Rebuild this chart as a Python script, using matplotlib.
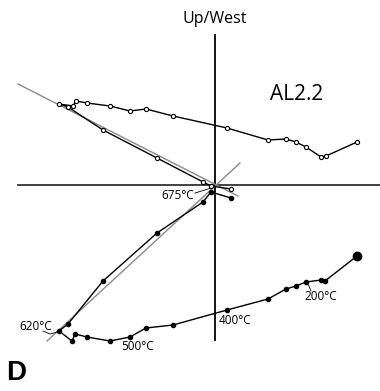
import matplotlib.pyplot as plt

# horizontal projection (open circles): East, North-ish components, NRM first
hor_x = [142, 111, 106, 91, 81, 71, 53, 12, -42, -69, -85, -105, -128, -139, -142, -156, -147, -112, -58, -12, -4, 16]
hor_y = [43, 29, 28, 38, 43, 46, 45, 57, 69, 76, 74, 79, 82, 84, 79, 81, 78, 55, 27, 3, -1, -4]
# vertical projection (filled dots)
ver_x = [142, 110, 106, 91, 81, 71, 53, 12, -42, -69, -85, -105, -128, -140, -143, -156, -147, -112, -58, -12, -4, 16]
ver_y = [-71, -96, -95, -97, -101, -104, -114, -125, -140, -143, -152, -156, -152, -149, -156, -146, -139, -96, -48, -17, -7, -13]

# principal component fit lines
fit1_x = [-197, 23]
fit1_y = [101, -11]
fit2_x = [-168, 25]
fit2_y = [-156, 22]

plt.rcParams['font.family'] = ['Open Sans', 'DejaVu Sans']
fig = plt.figure(figsize=(3.8, 3.91), dpi=100)
ax = fig.add_axes([0, 0, 1, 1])
ax.set_xlim(-215, 165)
ax.set_ylim(-206, 185)
ax.axis('off')

# axes cross
ax.plot([-197, 165], [0, 0], color='#333333', lw=1.3, zorder=1)
ax.plot([0, 0], [150, -155], color='black', lw=1.3, zorder=1)

ax.plot(fit1_x, fit1_y, color='#8a8a8a', lw=1.0, zorder=2)
ax.plot(fit2_x, fit2_y, color='#8a8a8a', lw=1.0, zorder=2)

ax.plot(hor_x, hor_y, '-o', color='black', lw=1.0, ms=3, mfc='white', mew=0.8, zorder=3)
ax.plot(ver_x, ver_y, '-o', color='black', lw=1.0, ms=3, zorder=3)
ax.plot(ver_x[0], ver_y[0], 'o', color='black', ms=6, zorder=4)

ax.text(0, 166, 'Up/West', ha='center', va='center', fontsize=11.5)
ax.text(82, 90, 'AL2.2', ha='center', va='center', fontsize=15)
ax.text(-209, -188, 'D', ha='left', va='center', fontsize=20, fontweight='bold',
        family=['Liberation Sans', 'DejaVu Sans'])

ax.text(-37, -11, '675°C', ha='center', va='center', fontsize=8.5)
ax.plot([-20, -10, -4], [-8, -5, -3], color='black', lw=0.6)
ax.text(-179, -142, '620°C', ha='center', va='center', fontsize=8.5)
ax.plot([-172, -165, -158], [-146, -149, -147], color='black', lw=0.6)
ax.text(-78, -161, '500°C', ha='center', va='center', fontsize=8.5)
ax.text(20, -135, '400°C', ha='center', va='center', fontsize=8.5)
ax.text(106, -112, '200°C', ha='center', va='center', fontsize=8.5)
ax.plot([91, 94, 96], [-97, -101, -106], color='black', lw=0.6)

fig.savefig('out.png', dpi=100)
